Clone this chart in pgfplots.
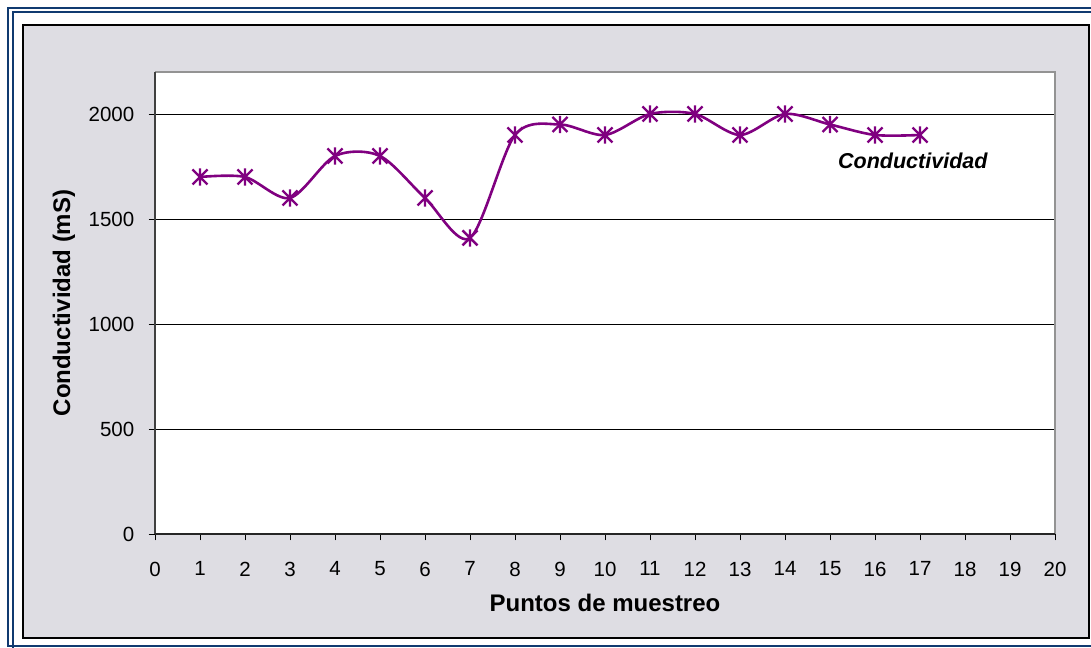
\documentclass[border=0pt]{standalone}
\usepackage{fontspec}
\setmainfont{Liberation Sans}
\usepackage{pgfplots}
\pgfplotsset{compat=1.18}
\definecolor{framblue}{RGB}{16,58,112}
\definecolor{chartgrey}{RGB}{222,221,227}
\definecolor{serpurple}{RGB}{128,0,128}
\pgfdeclareplotmark{xstar}{%
  \pgfpathmoveto{\pgfqpoint{-\pgfplotmarksize}{-\pgfplotmarksize}}%
  \pgfpathlineto{\pgfqpoint{\pgfplotmarksize}{\pgfplotmarksize}}%
  \pgfpathmoveto{\pgfqpoint{-\pgfplotmarksize}{\pgfplotmarksize}}%
  \pgfpathlineto{\pgfqpoint{\pgfplotmarksize}{-\pgfplotmarksize}}%
  \pgfpathmoveto{\pgfqpoint{0pt}{-1.15\pgfplotmarksize}}%
  \pgfpathlineto{\pgfqpoint{0pt}{1.15\pgfplotmarksize}}%
  \pgfusepathqstroke}
\begin{document}
\begin{tikzpicture}[x=1bp,y=1bp]
\useasboundingbox (0,0) rectangle (1091,648);
\clip (0,0) rectangle (1091,648);
% outer double blue frame
\draw[framblue, line width=2.2bp] (8,640) rectangle (1100,2);
\draw[framblue, line width=2bp] (12.5,635.5) rectangle (1096,-10);
% inner chart area
\draw[black, line width=1.5bp, fill=chartgrey] (23,623) rectangle (1089,10);
\coordinate (O) at (155,114);
\begin{axis}[
  at={(O)}, anchor=south west,
  scale only axis, width=900bp, height=462bp,
  xmin=0, xmax=20, ymin=0, ymax=2200,
  xtick={0,1,...,20}, ytick={0,500,1000,1500,2000},
  axis line style={draw=none},
  axis background/.style={fill=white},
  ymajorgrids, major grid style={black, line width=0.8bp},
  tick align=outside, xtick pos=bottom, ytick pos=left,
  major tick length=6.5bp,
  tick style={black, line width=0.8bp},
  /pgf/number format/assume math mode=true,
  /pgf/number format/1000 sep={},
  ticklabel style={font=\fontsize{20.5bp}{24bp}\selectfont, inner sep=0pt},
  yticklabel style={anchor=east, xshift=-14bp},
  xticklabel style={anchor=north, yshift=-21bp},
  xlabel={Puntos de muestreo},
  ylabel={Conductividad (mS)},
  label style={font=\fontsize{24bp}{28bp}\selectfont\bfseries},
  xlabel style={at={(axis description cs:0.5,-0.1682)}, anchor=base, inner sep=0pt},
  ylabel style={at={(axis description cs:-0.1011,0.5)}, anchor=center, inner sep=0pt},
  clip=false,
]
\draw[gray!85, line width=2bp] (rel axis cs:0,1) -- (rel axis cs:1,1) -- (rel axis cs:1,0);
\draw[black!75, line width=2bp] (rel axis cs:0,0) -- (rel axis cs:0,1);
\draw[black!85, line width=1.4bp] (rel axis cs:0,0) -- (rel axis cs:1,0);
\addplot[serpurple, line width=2.6bp, smooth, tension=0.5, mark=xstar, mark size=7.5bp,
  mark options={line width=2.4bp, solid}] coordinates {
  (1,1700) (2,1700) (3,1600) (4,1800) (5,1800) (6,1600) (7,1410)
  (8,1900) (9,1950) (10,1900) (11,2000) (12,2000) (13,1900) (14,2000)
  (15,1950) (16,1900) (17,1900)
};
\node[font=\fontsize{21.5bp}{26bp}\selectfont\bfseries\itshape] at (axis cs:16.84,1776) {Conductividad};
\end{axis}
\end{tikzpicture}
\end{document}
